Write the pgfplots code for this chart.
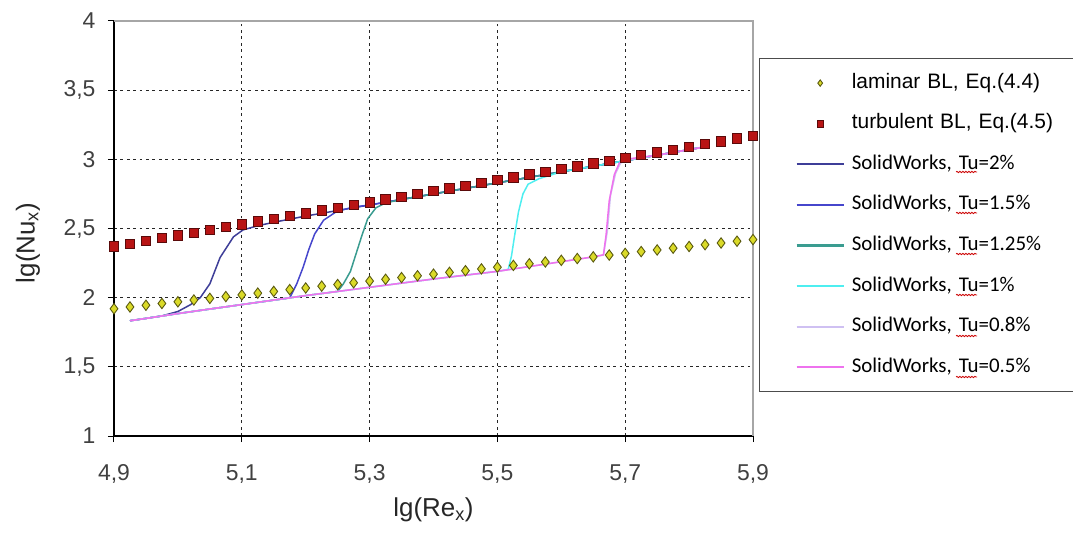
\documentclass[border=0pt]{standalone}
\usepackage{pgfplots}
\pgfplotsset{compat=1.18}
\usetikzlibrary{decorations.pathmorphing}
\usepackage{fontspec}
\setmainfont{Liberation Sans}
\newfontfamily\carlito{Carlito}
\definecolor{lamfill}{HTML}{DADA28}
\definecolor{lamdraw}{HTML}{5A5A10}
\definecolor{turbfill}{HTML}{B81414}
\definecolor{turbdraw}{HTML}{5A0A0A}
\definecolor{cTwo}{HTML}{3E3E98}
\definecolor{cOneFive}{HTML}{4646CC}
\definecolor{cOneTwoFive}{HTML}{3A9C90}
\definecolor{cOne}{HTML}{4EEEF0}
\definecolor{cZeroEight}{HTML}{CFC0F2}
\definecolor{cZeroFive}{HTML}{EE72EE}
\begin{document}
\begin{tikzpicture}
\begin{axis}[
  scale only axis, width=639bp, height=415bp,
  xmin=4.9, xmax=5.9, ymin=1, ymax=4,
  clip=false,
  axis x line*=bottom, axis y line*=left,
  axis line style={black, line width=1.3bp},
  xtick={4.9,5.1,5.3,5.5,5.7,5.9},
  ytick={1,1.5,2,2.5,3,3.5,4},
  grid=major,
  major grid style={black!85, line width=1.2bp, dash pattern=on 2.8bp off 3.6bp},
  tick align=outside, major tick length=6bp,
  tick style={black, line width=1bp},
  /pgf/number format/assume math mode=true,
  ticklabel style={font=\fontsize{23}{27}\selectfont, text=black!75},
  xticklabel style={yshift=-19bp, /pgf/number format/.cd, use comma, fixed, fixed zerofill, precision=1},
  yticklabel style={xshift=-9bp, /pgf/number format/.cd, use comma, fixed, precision=1},
  xlabel={lg(Re\textsubscript{x})},
  ylabel={lg(Nu\textsubscript{x})},
  label style={font=\fontsize{26}{30}\selectfont, text=black!85},
  xlabel style={at={(axis description cs:0.5,-0.178)}, anchor=center},
  ylabel style={at={(axis description cs:-0.1346,0.465)}, anchor=center},
  legend style={at={(1,1)}, anchor=north west, xshift=6bp, yshift=-37bp,
    draw=black!70, line width=1.2bp, fill=white,
    inner xsep=10bp, inner ysep=12.5bp, row sep=16.6bp,
    nodes={text width=205bp, text height=15bp, text depth=5bp, inner ysep=2bp, inner xsep=7bp,
      font=\fontsize{21}{24}\selectfont}},
  legend cell align=left,
  legend image code/.code={\path (0bp,0bp); \draw[mark repeat=2,mark phase=2,#1] plot coordinates {(26bp,0bp) (49.5bp,0bp) (73bp,0bp)};},
  legend image post style={mark size=3.2bp},
]
% SolidWorks curves (drawn first, under the markers)
\addplot[cTwo, line width=1.5bp, forget plot] coordinates {
(4.925,1.833) (4.95,1.850) (4.975,1.868) (5.0,1.900) (5.02,1.950) (5.035,2.000)
(5.05,2.100) (5.066,2.290) (5.087,2.440) (5.102,2.490) (5.125,2.520) (5.15,2.545)
(5.2,2.590) (5.25,2.630) (5.3,2.670) (5.4,2.750) (5.5,2.830) (5.6,2.910) (5.7,2.990) (5.82,3.086)};
\addplot[cOneFive, line width=1.5bp, forget plot] coordinates {
(4.925,1.833) (5.0,1.885) (5.1,1.950) (5.175,1.998) (5.186,2.100) (5.196,2.220)
(5.205,2.350) (5.214,2.460) (5.228,2.560) (5.249,2.625) (5.275,2.655) (5.3,2.670)
(5.4,2.750) (5.5,2.830) (5.6,2.910) (5.7,2.990) (5.82,3.086)};
\addplot[cOneTwoFive, line width=1.5bp, forget plot] coordinates {
(4.925,1.833) (5.0,1.885) (5.1,1.950) (5.2,2.015) (5.25,2.045) (5.259,2.100)
(5.27,2.190) (5.279,2.320) (5.288,2.450) (5.297,2.570) (5.31,2.650) (5.325,2.685)
(5.35,2.710) (5.4,2.750) (5.5,2.830) (5.6,2.910) (5.7,2.990) (5.82,3.086)};
\addplot[cOne, line width=1.5bp, forget plot] coordinates {
(4.925,1.833) (5.0,1.885) (5.1,1.950) (5.2,2.015) (5.3,2.075) (5.4,2.135) (5.5,2.190)
(5.517,2.205) (5.522,2.300) (5.527,2.450) (5.533,2.620) (5.540,2.750) (5.548,2.820)
(5.565,2.860) (5.6,2.910) (5.7,2.990) (5.82,3.086)};
\addplot[cZeroEight, line width=1.5bp, forget plot] coordinates {
(4.925,1.833) (5.0,1.885) (5.1,1.950) (5.2,2.015) (5.3,2.075) (5.4,2.135) (5.5,2.190)
(5.55,2.225) (5.6,2.260) (5.65,2.295) (5.666,2.308) (5.672,2.480) (5.677,2.740)
(5.685,2.900) (5.693,2.975) (5.71,3.000) (5.75,3.030) (5.82,3.086)};
\addplot[cZeroFive, line width=1.5bp, forget plot] coordinates {
(4.925,1.833) (4.95,1.850) (5.0,1.885) (5.05,1.918) (5.1,1.950) (5.15,1.983) (5.2,2.015)
(5.25,2.045) (5.3,2.075) (5.35,2.105) (5.4,2.135) (5.45,2.163) (5.5,2.190) (5.55,2.225)
(5.6,2.260) (5.65,2.295) (5.666,2.310) (5.670,2.450) (5.675,2.700) (5.683,2.890)
(5.691,2.975) (5.700,3.000) (5.75,3.030) (5.82,3.086)};
% laminar BL
\addplot[only marks, mark=diamond*, mark size=5.2bp, line width=0.9bp,
  mark options={fill=lamfill, draw=lamdraw}] coordinates {
(4.900,1.920) (4.925,1.933) (4.950,1.945) (4.975,1.958) (5.000,1.970) (5.025,1.983)
(5.050,1.995) (5.075,2.008) (5.100,2.020) (5.125,2.033) (5.150,2.045) (5.175,2.058)
(5.200,2.070) (5.225,2.083) (5.250,2.095) (5.275,2.108) (5.300,2.120) (5.325,2.133)
(5.350,2.145) (5.375,2.158) (5.400,2.170) (5.425,2.183) (5.450,2.195) (5.475,2.208)
(5.500,2.220) (5.525,2.233) (5.550,2.245) (5.575,2.258) (5.600,2.270) (5.625,2.283)
(5.650,2.295) (5.675,2.308) (5.700,2.320) (5.725,2.333) (5.750,2.345) (5.775,2.358)
(5.800,2.370) (5.825,2.383) (5.850,2.395) (5.875,2.408) (5.900,2.420)};
\addlegendentry{laminar BL, Eq.(4.4)}
% turbulent BL
\addplot[only marks, mark=square*, mark size=4.7bp, line width=0.8bp,
  mark options={fill=turbfill, draw=turbdraw}] coordinates {
(4.900,2.370) (4.925,2.390) (4.950,2.410) (4.975,2.430) (5.000,2.450) (5.025,2.470)
(5.050,2.490) (5.075,2.510) (5.100,2.530) (5.125,2.550) (5.150,2.570) (5.175,2.590)
(5.200,2.610) (5.225,2.630) (5.250,2.650) (5.275,2.670) (5.300,2.690) (5.325,2.710)
(5.350,2.730) (5.375,2.750) (5.400,2.770) (5.425,2.790) (5.450,2.810) (5.475,2.830)
(5.500,2.850) (5.525,2.870) (5.550,2.890) (5.575,2.910) (5.600,2.930) (5.625,2.950)
(5.650,2.970) (5.675,2.990) (5.700,3.010) (5.725,3.030) (5.750,3.050) (5.775,3.070)
(5.800,3.090) (5.825,3.110) (5.850,3.130) (5.875,3.150) (5.900,3.170)};
\addlegendentry{turbulent BL, Eq.(4.5)}
\addlegendimage{draw=cTwo, line width=2.2bp}
\addlegendentry{\carlito SolidWorks, Tu=2\%}
\addlegendimage{draw=cOneFive, line width=2.2bp}
\addlegendentry{\carlito SolidWorks, Tu=1.5\%}
\addlegendimage{draw=cOneTwoFive, line width=2.2bp}
\addlegendentry{\carlito SolidWorks, Tu=1.25\%}
\addlegendimage{draw=cOne, line width=2.2bp}
\addlegendentry{\carlito SolidWorks, Tu=1\%}
\addlegendimage{draw=cZeroEight, line width=2.2bp}
\addlegendentry{\carlito SolidWorks, Tu=0.8\%}
\addlegendimage{draw=cZeroFive, line width=2.2bp}
\addlegendentry{\carlito SolidWorks, Tu=0.5\%}
\draw[black!35, line width=2bp] (rel axis cs:0,1) -- (rel axis cs:1,1) -- (rel axis cs:1,0);
\end{axis}
\foreach \dy in {264,223,182,141,100,59} {
  \draw[red!80!black, line width=0.8bp, decorate, decoration={snake, amplitude=0.7bp, segment length=3bp}]
    ([shift={(842bp,\dy bp)}]current axis.south west) -- ++(21bp,0);
}
\pgfresetboundingbox
\path ([shift={(-114bp,-99bp)}]current axis.south west) rectangle ([shift={(959bp,436bp)}]current axis.south west);
\end{tikzpicture}
\end{document}
